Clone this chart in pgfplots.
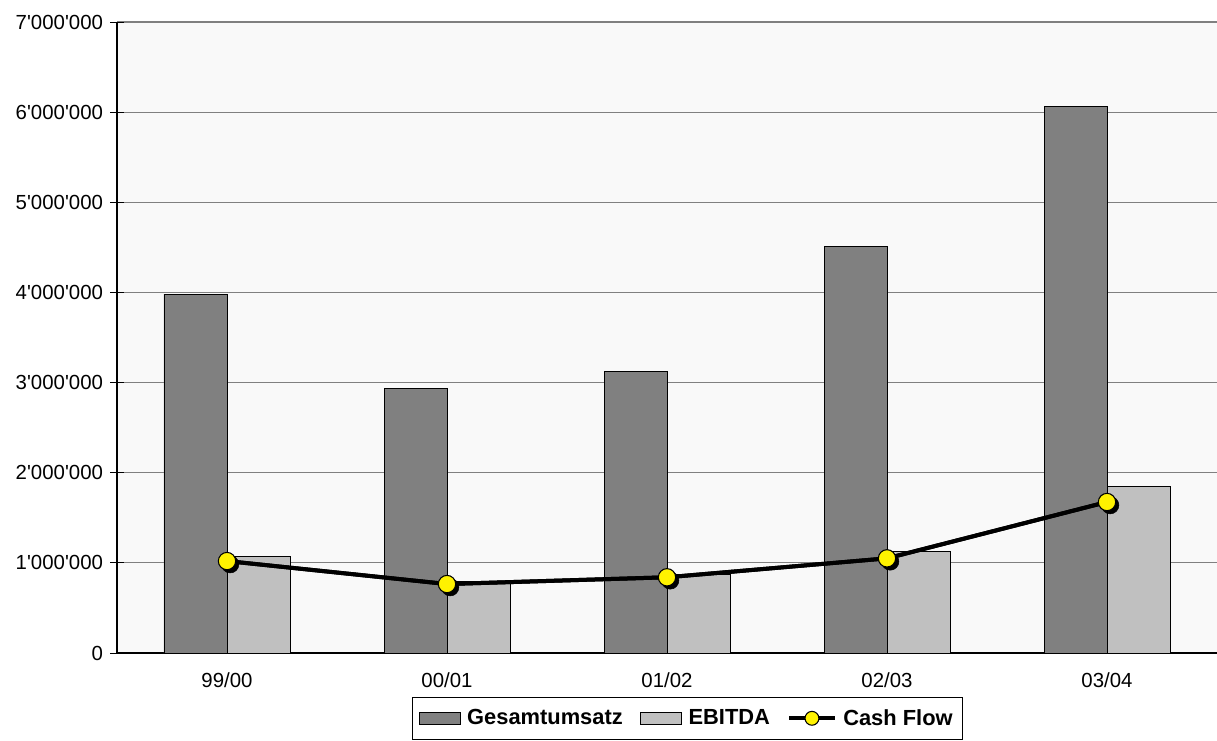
\documentclass[border=0pt]{standalone}
\usepackage{pgfplots}
\pgfplotsset{compat=1.18}
\usepackage{fontspec}
\setmainfont{Liberation Sans}

\definecolor{umsatz}{RGB}{128,128,128}
\definecolor{ebitda}{RGB}{192,192,192}
\definecolor{plotbg}{RGB}{249,249,249}
\definecolor{gridc}{RGB}{128,128,128}

\begin{document}
\begin{tikzpicture}[font=\fontsize{15.3}{18}\selectfont]
% 1px = 0.75pt, picture 1217x740 px
\path[use as bounding box] (-87.75pt,-65.25pt) rectangle (825pt,489.75pt);
\begin{axis}[
    at={(0,0)}, anchor=south west,
    scale only axis,
    width=825pt, height=473.25pt,
    xmin=-0.5, xmax=4.5,
    ymin=0, ymax=7000000,
    ybar=0pt, bar width=47.25pt,
    axis lines=left,
    axis line style={-, black, line width=0.8pt},
    axis background/.style={fill=plotbg},
    ymajorgrids, grid style={gridc, line width=0.8pt},
    ytick={0,1000000,...,7000000},
    scaled y ticks=false,
    /pgf/number format/fixed,
    /pgf/number format/1000 sep={\textquotesingle},
    /pgf/number format/assume math mode=true,
    yticklabel style={xshift=-2pt},
    xtick={0,1,2,3,4},
    xticklabels={99/00,00/01,01/02,02/03,03/04},
    x tick label style={yshift=-6pt},
    major x tick style={draw=none},
    extra x ticks={-0.5,0.5,1.5,2.5,3.5,4.5},
    extra x tick labels={},
    extra x tick style={tick align=center, major tick length=9pt, tick style={black, line width=0.6pt}},
    tick align=center,
    major tick length=10pt,
    tick style={black, line width=0.6pt},
    legend style={at={(0.2679,-0.0697)}, anchor=north west, legend columns=3,
        draw=black, line width=0.6pt, font=\fontsize{16.4}{19}\selectfont\bfseries,
        /tikz/every odd column/.append style={column sep=3pt},
        /tikz/every even column/.append style={column sep=11pt},
        inner ysep=7pt, inner xsep=5pt},
    legend image code/.code={
        \draw[#1, line width=0.6pt] (0pt,-4.5pt) rectangle (30.75pt,4.5pt);},
]
\addplot[fill=umsatz, draw=black, line width=0.6pt] coordinates {
    (0,3980000) (1,2930000) (2,3120000) (3,4510000) (4,6060000)};
\addlegendentry{Gesamtumsatz}
\addplot[fill=ebitda, draw=black, line width=0.6pt] coordinates {
    (0,1075000) (1,790000) (2,870000) (3,1130000) (4,1850000)};
\addlegendentry{EBITDA}

% cash flow line, marker shadows, then markers
\addplot[sharp plot, black, line width=3pt, forget plot] coordinates {
    (0,1020000) (1,765000) (2,840000) (3,1050000) (4,1675000)};
\addplot[only marks, mark=*, mark size=6.5pt, forget plot,
    mark options={fill=black, draw=black, xshift=2.4pt, yshift=-2.4pt}] coordinates {
    (0,1020000) (1,765000) (2,840000) (3,1050000) (4,1675000)};
\addplot[sharp plot, black, line width=3pt, mark=*, mark size=6.5pt,
    mark options={fill=yellow, draw=black, line width=0.8pt},
    legend image code/.code={
        \draw[black, line width=3pt] (0pt,0pt) -- (34pt,0pt);
        \draw[fill=yellow, draw=black, line width=0.8pt] (17pt,0pt) circle (5.2pt);
    }] coordinates {
    (0,1020000) (1,765000) (2,840000) (3,1050000) (4,1675000)};
\addlegendentry{Cash Flow}
\end{axis}
\end{tikzpicture}
\end{document}
